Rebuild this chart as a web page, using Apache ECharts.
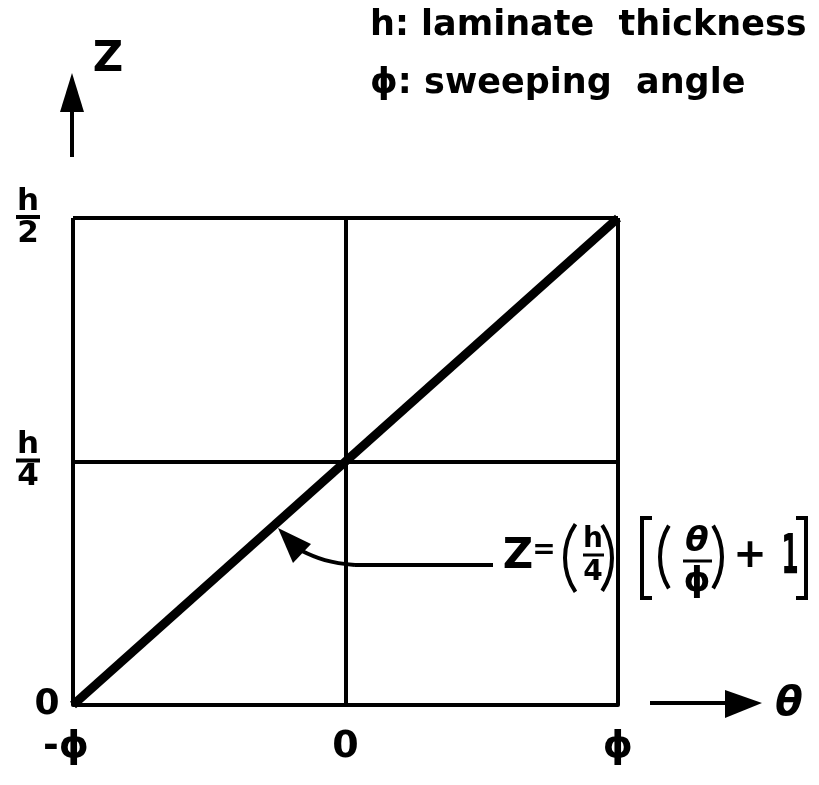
<!DOCTYPE html>
<html>
<head>
<meta charset="utf-8">
<script src="https://cdn.jsdelivr.net/npm/echarts@6/dist/echarts.min.js"></script>
<style>
  html, body { margin: 0; padding: 0; background: #fff; }
  #chart { width: 819px; height: 785px; }
</style>
</head>
<body>
<div id="chart"></div>
<script>
// axis ticks (theta in units of phi, Z in units of h/4)
const thetaTicks = [-1, 0, 1];
const thetaTickLabels = ['-ϕ', '0', 'ϕ'];
const zTicks = [0, 1, 2];
const zTickLabels = ['{z|0}', '{n|h}\n{b|}\n{d|4}', '{n|h}\n{b|}\n{d|2}'];

// the line Z = (h/4)[(theta/phi) + 1]
const lineTheta = [-1, 1];
const lineZ = [0, 2];

const FONT = 'DejaVu Sans';
const ink = '#000';

const chart = echarts.init(document.getElementById('chart'));

function txt(x, y, text, size, extra, el) {
  return Object.assign({
    type: 'text', x: x, y: y,
    style: Object.assign({
      text: text, fill: ink, fontFamily: FONT, fontWeight: 'bold',
      fontSize: size, align: 'center', verticalAlign: 'middle'
    }, extra || {})
  }, el || {});
}
function stroke(w) {
  return { stroke: ink, lineWidth: w, fill: null };
}
function paren(cx, cy, r, a, left) {
  const c = left ? Math.PI : 0;
  return {
    type: 'arc',
    shape: { cx: cx, cy: cy, r: r, startAngle: c - a, endAngle: c + a, clockwise: true },
    style: stroke(4)
  };
}

const option = {
  backgroundColor: '#fff',
  animation: false,
  grid: { left: 73, right: 201, top: 218, bottom: 80 },
  xAxis: {
    type: 'value', min: -1, max: 1, interval: 1,
    axisLine: { show: true, onZero: false, lineStyle: { color: ink, width: 4 } },
    axisTick: { show: false },
    splitLine: { show: true, lineStyle: { color: ink, width: 4 } },
    axisLabel: {
      margin: 42, verticalAlign: 'middle', color: ink,
      fontFamily: FONT, fontWeight: 'bold', fontSize: 38,
      formatter: v => {
        const i = thetaTicks.indexOf(v);
        return i === 0 ? '{m|' + thetaTickLabels[i] + '}' : thetaTickLabels[i];
      },
      rich: { m: { fontFamily: FONT, fontWeight: 'bold', fontSize: 38, padding: [0, 14, 0, 0] } }
    }
  },
  yAxis: {
    type: 'value', min: 0, max: 2, interval: 1,
    axisLine: { show: true, lineStyle: { color: ink, width: 4 } },
    axisTick: { show: false },
    splitLine: { show: true, lineStyle: { color: ink, width: 4 } },
    axisLabel: {
      margin: 45, align: 'center', color: ink,
      formatter: v => zTickLabels[zTicks.indexOf(v)],
      rich: {
        n: { fontFamily: FONT, fontWeight: 'bold', fontSize: 31, lineHeight: 27, align: 'center' },
        b: { width: 24, height: 4, backgroundColor: ink, align: 'center' },
        d: { fontFamily: FONT, fontWeight: 'bold', fontSize: 31, lineHeight: 29, align: 'center' },
        z: { fontFamily: FONT, fontWeight: 'bold', fontSize: 36, padding: [0, 0, 0, 38] }
      }
    }
  },
  series: [{
    type: 'line',
    data: lineTheta.map((t, i) => [t, lineZ[i]]),
    showSymbol: false,
    lineStyle: { color: ink, width: 9 },
    z: 5
  }],
  graphic: [
    // Z axis arrow
    { type: 'line', shape: { x1: 72, y1: 157, x2: 72, y2: 105 }, style: stroke(4) },
    { type: 'polygon', shape: { points: [[72, 73], [60, 112], [84, 112]] }, style: { fill: ink } },
    txt(108, 60, 'Z', 42),
    // theta arrow
    { type: 'line', shape: { x1: 650, y1: 703, x2: 730, y2: 703 }, style: stroke(4) },
    { type: 'polygon', shape: { points: [[762, 703], [725, 690], [725, 718]] }, style: { fill: ink } },
    txt(789, 705, 'θ', 40, { fontStyle: 'italic' }),
    // legend
    txt(370, 26, 'h: laminate  thickness', 35, { align: 'left' }),
    txt(370, 84, 'ϕ: sweeping  angle', 35, { align: 'left' }),
    // curved pointer to the line
    { type: 'polyline', shape: { points: [[493, 565], [355, 565]] }, style: stroke(4) },
    { type: 'bezierCurve', shape: { x1: 355, y1: 565, cpx1: 330, cpy1: 563, cpx2: 318, cpy2: 559, x2: 300, y2: 550 }, style: stroke(4) },
    { type: 'polygon', shape: { points: [[278, 528], [293, 563], [311, 544]] }, style: { fill: ink } },
    // formula Z = (h/4)[(theta/phi)+1]
    txt(518, 557, 'Z', 42),
    txt(544, 551, '=', 28),
    paren(625, 558, 60, 0.6, true),
    txt(593, 540, 'h', 28),
    { type: 'line', shape: { x1: 583, y1: 555, x2: 604, y2: 555 }, style: stroke(3) },
    txt(593, 573, '4', 28),
    paren(552, 558, 60, 0.58, false),
    { type: 'polyline', shape: { points: [[652, 518], [642, 518], [642, 598], [652, 598]] }, style: stroke(4) },
    paren(720, 557, 60, 0.55, true),
    txt(697, 542, 'θ', 34, { fontStyle: 'italic' }),
    { type: 'line', shape: { x1: 683, y1: 561, x2: 712, y2: 561 }, style: stroke(3) },
    txt(697, 582, 'ϕ', 34),
    paren(662, 557, 60, 0.55, false),
    txt(750, 557, '+', 40),
    txt(790, 558, '1', 56, { fontWeight: 'bold' }, { scaleX: 0.45, scaleY: 1 }),
    { type: 'polyline', shape: { points: [[796, 518], [806, 518], [806, 598], [796, 598]] }, style: stroke(4) }
  ]
};

chart.setOption(option);
</script>
</body>
</html>
